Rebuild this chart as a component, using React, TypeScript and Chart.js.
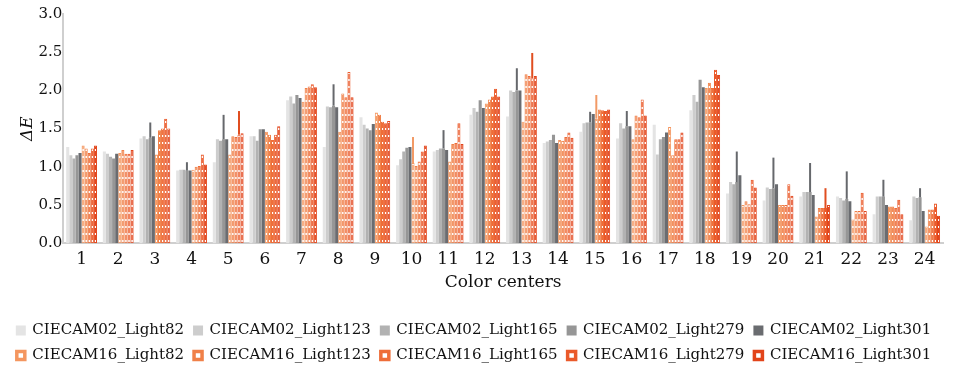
import React, { useEffect, useRef } from 'react';
import { Chart, registerables } from 'chart.js';

Chart.register(...registerables);

const categories = ['1', '2', '3', '4', '5', '6', '7', '8', '9', '10', '11', '12', '13', '14', '15', '16', '17', '18', '19', '20', '21', '22', '23', '24'];

const seriesNames = [
  'CIECAM02_Light82', 'CIECAM02_Light123', 'CIECAM02_Light165', 'CIECAM02_Light279', 'CIECAM02_Light301',
  'CIECAM16_Light82', 'CIECAM16_Light123', 'CIECAM16_Light165', 'CIECAM16_Light279', 'CIECAM16_Light301',
];

const c02L82 = [1.26, 1.20, 1.37, 0.95, 1.06, 1.40, 1.87, 1.26, 1.65, 1.02, 1.20, 1.68, 1.66, 1.31, 1.46, 1.37, 1.55, 1.74, 0.65, 0.56, 0.61, 0.61, 0.38, 0.30];
const c02L123 = [1.15, 1.17, 1.40, 0.96, 1.36, 1.40, 1.92, 1.79, 1.55, 1.10, 1.22, 1.77, 2.00, 1.33, 1.57, 1.57, 1.16, 1.94, 0.80, 0.73, 0.67, 0.59, 0.61, 0.61];
const c02L165 = [1.11, 1.13, 1.36, 0.96, 1.34, 1.34, 1.83, 1.78, 1.50, 1.20, 1.24, 1.72, 1.98, 1.35, 1.58, 1.50, 1.36, 1.85, 0.77, 0.71, 0.67, 0.56, 0.61, 0.59];
const c02L279 = [1.15, 1.11, 1.38, 0.95, 1.36, 1.49, 1.94, 1.80, 1.48, 1.25, 1.24, 1.87, 2.00, 1.42, 1.58, 1.53, 1.39, 2.14, 0.80, 0.72, 0.67, 0.58, 0.61, 0.60];
const c02L301 = [1.18, 1.17, 1.40, 0.95, 1.36, 1.49, 1.90, 1.78, 1.56, 1.26, 1.22, 1.77, 2.00, 1.31, 1.69, 1.53, 1.45, 2.04, 0.89, 0.77, 0.63, 0.55, 0.50, 0.42];
const c16L82 = [1.28, 1.18, 1.16, 0.96, 1.16, 1.46, 1.85, 1.46, 1.71, 1.05, 1.07, 1.83, 1.59, 1.35, 1.63, 1.36, 1.52, 2.03, 0.50, 0.50, 0.35, 0.31, 0.48, 0.22];
const c16L123 = [1.24, 1.22, 1.48, 1.00, 1.40, 1.42, 2.03, 1.96, 1.68, 1.01, 1.30, 1.88, 2.21, 1.34, 1.75, 1.67, 1.15, 2.10, 0.55, 0.50, 0.46, 0.42, 0.48, 0.44];
const c16L165 = [1.18, 1.17, 1.50, 1.01, 1.39, 1.35, 2.05, 1.91, 1.59, 1.07, 1.31, 1.92, 2.19, 1.39, 1.74, 1.65, 1.36, 2.03, 0.51, 0.50, 0.46, 0.42, 0.46, 0.44];
const c16L279 = [1.24, 1.17, 1.63, 1.16, 1.42, 1.42, 2.08, 2.24, 1.57, 1.20, 1.57, 2.02, 2.16, 1.45, 1.73, 1.88, 1.36, 2.27, 0.83, 0.77, 0.46, 0.66, 0.57, 0.52];
const c16L301 = [1.28, 1.22, 1.50, 1.03, 1.44, 1.53, 2.04, 1.91, 1.60, 1.28, 1.30, 1.92, 2.19, 1.38, 1.75, 1.67, 1.45, 2.20, 0.73, 0.62, 0.50, 0.42, 0.38, 0.36];

// upper error extents (0 = none)
const c02L279Err = [0, 0, 0.20, 0.11, 0.32, 0, 0, 0.28, 0, 0, 0.24, 0, 0.29, 0, 0.14, 0.20, 0, 0, 0.40, 0.40, 0.38, 0.36, 0.22, 0.12];
const c16L82Err = [0, 0, 0, 0, 0, 0, 0, 0, 0, 0.34, 0, 0, 0, 0, 0.31, 0, 0, 0, 0, 0, 0, 0, 0, 0];
const c16L279Err = [0, 0, 0, 0, 0.31, 0, 0, 0, 0, 0, 0, 0, 0.33, 0, 0, 0, 0, 0, 0, 0, 0.26, 0, 0, 0];

const yTicks = [0, 0.5, 1.0, 1.5, 2.0, 2.5, 3.0];

const allData = [c02L82, c02L123, c02L165, c02L279, c02L301, c16L82, c16L123, c16L165, c16L279, c16L301];
const allErr = [null, null, null, c02L279Err, null, c16L82Err, null, null, c16L279Err, null];

const greyColors = ['#e4e4e4', '#cdcdcd', '#b2b2b2', '#969696', '#6a6c70'];
const orangeColors = ['#f4965f', '#f08048', '#ee6d38', '#ea5a2a', '#e2441a'];
const errColors = ['#cccccc', '#b0b0b0', '#8a8a8a', '#66686c', '#55585c', '#f29a66', '#ee8450', '#ec7040', '#e04e20', '#d9401a'];

const FONT = "'DejaVu Serif', serif";

function makeStripe(color: string): CanvasPattern | string {
  const c = document.createElement('canvas');
  c.width = 4;
  c.height = 7;
  const g = c.getContext('2d');
  if (!g) return color;
  g.fillStyle = color;
  g.fillRect(0, 0, 4, 7);
  g.fillStyle = '#ffffff';
  g.fillRect(0, 2, 4, 2);
  const p = g.createPattern(c, 'repeat');
  return p || color;
}

const errorBarPlugin = {
  id: 'errorBars',
  afterDatasetsDraw(chart: any) {
    const ctx = chart.ctx;
    const ys = chart.scales.y;
    chart.data.datasets.forEach((ds: any, i: number) => {
      const errs = ds.errorUp;
      if (!errs) return;
      const meta = chart.getDatasetMeta(i);
      if (meta.hidden) return;
      meta.data.forEach((el: any, j: number) => {
        const e = errs[j];
        if (!e) return;
        const v = ds.data[j];
        ctx.save();
        ctx.strokeStyle = ds.errorColor;
        ctx.lineWidth = 2;
        ctx.beginPath();
        ctx.moveTo(el.x, el.y);
        ctx.lineTo(el.x, ys.getPixelForValue(v + e));
        ctx.stroke();
        ctx.restore();
      });
    });
  },
};

export default function App() {
  const ref = useRef<HTMLCanvasElement | null>(null);

  useEffect(() => {
    if (!ref.current) return;
    const datasets = seriesNames.map((name, i) => {
      const isOrange = i >= 5;
      const col = isOrange ? orangeColors[i - 5] : greyColors[i];
      return {
        label: name,
        data: allData[i],
        backgroundColor: isOrange ? makeStripe(col) : col,
        borderColor: col,
        borderWidth: isOrange ? 1 : 0,
        borderSkipped: 'bottom',
        errorUp: allErr[i],
        errorColor: errColors[i],
        baseColor: col,
      } as any;
    });

    const chart = new Chart(ref.current, {
      type: 'bar',
      data: { labels: categories, datasets },
      plugins: [errorBarPlugin],
      options: {
        animation: false,
        responsive: true,
        maintainAspectRatio: false,
        layout: { padding: { top: 14, right: 14, left: 5, bottom: 0 } },
        datasets: {
          bar: { categoryPercentage: 0.84, barPercentage: 1.0 },
        },
        plugins: {
          tooltip: { enabled: false },
          legend: {
            position: 'bottom',
            labels: {
              font: { family: FONT, size: 15 },
              color: '#111',
              boxWidth: 8,
              boxHeight: 8,
              padding: 10,
              generateLabels(ch: any) {
                return ch.data.datasets.map((ds: any, i: number) => {
                  const isOrange = i >= 5;
                  return {
                    text: ds.label,
                    fillStyle: isOrange ? '#ffffff' : ds.baseColor,
                    strokeStyle: ds.baseColor,
                    lineWidth: isOrange ? 3.5 : 2,
                    hidden: false,
                    datasetIndex: i,
                    fontColor: '#111',
                  };
                });
              },
            },
          },
        },
        scales: {
          x: {
            grid: { display: false, drawTicks: false },
            border: { display: true, color: '#cfcfcf', width: 2 },
            ticks: { font: { family: FONT, size: 17 }, color: '#111', padding: 6 },
            title: { display: true, text: 'Color centers', font: { family: FONT, size: 17 }, color: '#111', padding: { top: -3, bottom: 20 } },
          },
          y: {
            min: 0,
            max: 3,
            afterBuildTicks(scale: any) {
              scale.ticks = yTicks.map((v) => ({ value: v }));
            },
            grid: { display: false, drawTicks: false },
            border: { display: true, color: '#cfcfcf', width: 2 },
            ticks: {
              font: { family: FONT, size: 15 },
              color: '#111',
              padding: 1,
              callback: (v: any) => Number(v).toFixed(1),
            },
            title: { display: true, text: 'ΔE', font: { family: FONT, size: 17, style: 'italic' }, color: '#111', padding: { top: 12, bottom: 0 } },
          },
        },
      } as any,
    });
    return () => chart.destroy();
  }, []);

  return (
    <div style={{ position: 'absolute', left: 0, top: 0, width: 957, height: 373, background: '#fff' }}>
      <canvas ref={ref} />
    </div>
  );
}
